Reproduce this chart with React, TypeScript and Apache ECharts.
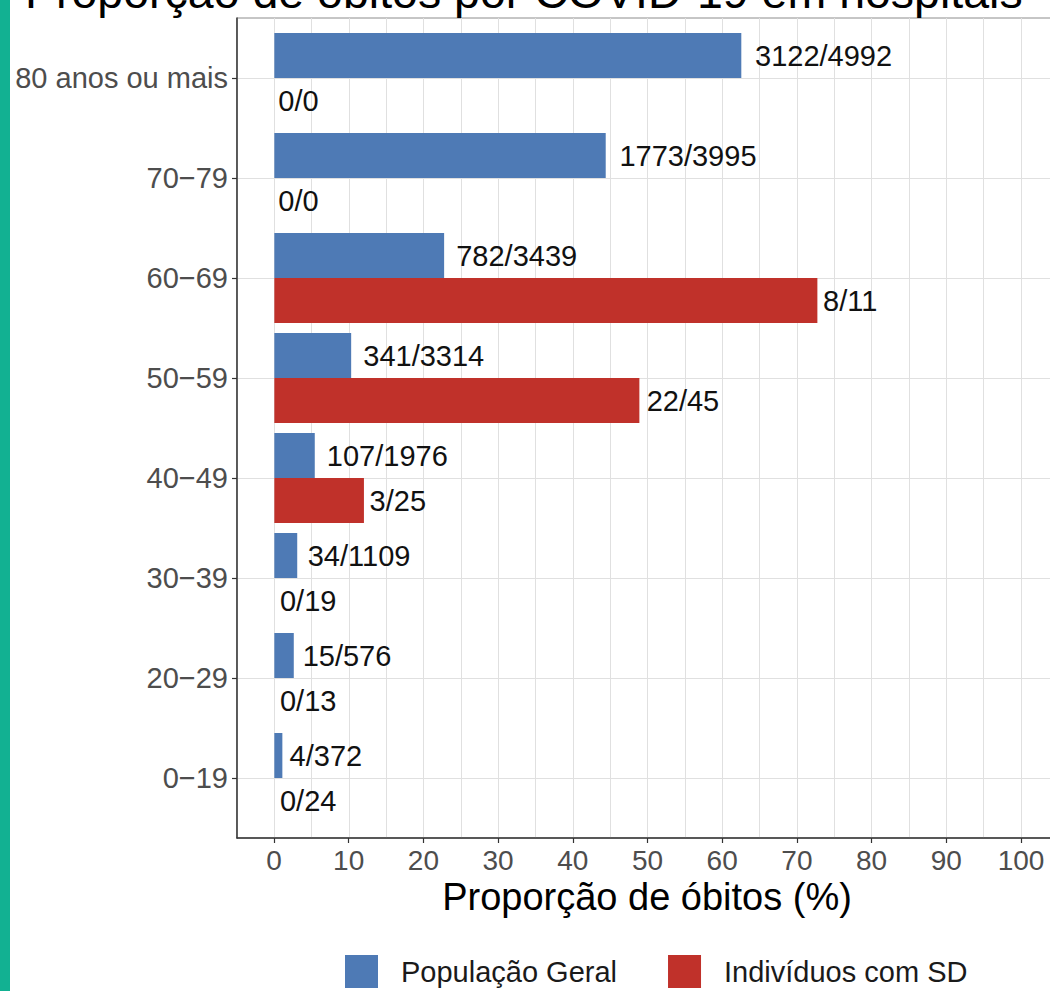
import React, { useEffect, useRef } from "react";
import * as echarts from "echarts";

const ageGroups = ["80 anos ou mais", "70−79", "60−69", "50−59", "40−49", "30−39", "20−29", "0−19"];
const geralDeaths = [3122, 1773, 782, 341, 107, 34, 15, 4];
const geralTotal = [4992, 3995, 3439, 3314, 1976, 1109, 576, 372];
const sdDeaths = [0, 0, 8, 22, 3, 0, 0, 0];
const sdTotal = [0, 0, 11, 45, 25, 19, 13, 24];
const seriesNames = ["População Geral", "Indivíduos com SD"];
const chartTitle = "Proporção de óbitos por COVID-19 em hospitais";
const xTitle = "Proporção de óbitos (%)";

const pct = (d: number[], t: number[]) => d.map((v, i) => (t[i] > 0 ? (100 * v) / t[i] : 0));

const FONT = "'Liberation Sans', Arial, sans-serif";
const BLUE = "#4e7ab5";
const RED = "#c0312a";
const LABEL_SIZE = 29;
const CHART_W = 1059;

// ggplot-like hjust = -0.1: gap equals 10% of the label's width
const labelGap = (s: string) => {
  let w = 0;
  for (const ch of s) w += ch === "/" ? 0.278 : 0.556;
  return Math.max(4, 0.1 * w * LABEL_SIZE);
};

const buildData = (d: number[], t: number[]) =>
  pct(d, t).map((v, i) => {
    const txt = `${d[i]}/${t[i]}`;
    return { value: v, label: { distance: labelGap(txt) } };
  });

export default function App() {
  const ref = useRef<HTMLDivElement>(null);
  useEffect(() => {
    if (!ref.current) return;
    const chart = echarts.init(ref.current, null, { renderer: "svg" });
    const gridTop = 18;
    const gridBottom = 991 - 838;
    const panelRight = CHART_W - 1058.35;
    const tickRight = CHART_W - 1021;
    const option: any = {
      animation: false,
      backgroundColor: "#ffffff",
      textStyle: { fontFamily: FONT },
      grid: [
        { left: 237, right: panelRight, top: 78, bottom: 991 - 778, containLabel: false },
        {
          left: 237, right: panelRight, top: gridTop, bottom: gridBottom, show: true,
          borderColor: "#8c8c8c", borderWidth: 1, backgroundColor: "transparent",
        },
        { left: 274, right: tickRight, top: gridTop, bottom: gridBottom },
      ],
      xAxis: [
        { gridIndex: 0, type: "value", min: -5, max: 105, show: false },
        {
          gridIndex: 1, type: "value", min: -5, max: 105, interval: 5,
          axisLine: { show: true, onZero: false, lineStyle: { color: "#333333", width: 1.5 } },
          axisTick: { show: false }, axisLabel: { show: false },
          splitLine: { show: true, lineStyle: { color: "#e0e0e0", width: 1 } },
        },
        {
          gridIndex: 2, type: "value", min: 0, max: 100, interval: 10,
          axisLine: { show: false, onZero: false },
          axisTick: { show: true, length: 5, lineStyle: { color: "#333333", width: 1.2 } },
          axisLabel: { show: true, color: "#4d4d4d", fontSize: 28, margin: 8, fontFamily: FONT },
          splitLine: { show: false },
        },
      ],
      yAxis: [
        {
          gridIndex: 0, type: "category", data: ageGroups, inverse: true, boundaryGap: false,
          axisLine: { show: false, onZero: false },
          axisTick: { show: true, length: 5, alignWithLabel: true, lineStyle: { color: "#333333", width: 1.2 } },
          axisLabel: { color: "#4d4d4d", fontSize: 29, margin: 9, fontFamily: FONT },
          splitLine: { show: true, lineStyle: { color: "#e0e0e0", width: 1 } },
        },
        {
          gridIndex: 1, type: "value", min: 0, max: 1,
          axisLine: { show: true, onZero: false, lineStyle: { color: "#333333", width: 1.5 } },
          axisTick: { show: false }, axisLabel: { show: false }, splitLine: { show: false },
        },
        { gridIndex: 2, type: "value", min: 0, max: 1, show: false },
      ],
      legend: {
        data: seriesNames,
        left: 340, top: 950, orient: "horizontal",
        itemWidth: 33, itemHeight: 33, itemGap: 51, icon: "rect",
        textStyle: { fontSize: 29, color: "#1a1a1a", fontFamily: FONT, padding: [0, 0, 0, 18] },
      },
      series: [
        {
          name: seriesNames[0], type: "bar", xAxisIndex: 0, yAxisIndex: 0,
          data: buildData(geralDeaths, geralTotal), barWidth: 45, barGap: "0%", clip: false,
          itemStyle: { color: BLUE },
          label: {
            show: true, position: "right", color: "#111111", fontSize: LABEL_SIZE, fontFamily: FONT,
            formatter: (p: any) => `${geralDeaths[p.dataIndex]}/${geralTotal[p.dataIndex]}`,
          },
        },
        {
          name: seriesNames[1], type: "bar", xAxisIndex: 0, yAxisIndex: 0,
          data: buildData(sdDeaths, sdTotal), barWidth: 45, barGap: "0%", clip: false,
          itemStyle: { color: RED },
          label: {
            show: true, position: "right", color: "#111111", fontSize: LABEL_SIZE, fontFamily: FONT,
            formatter: (p: any) => `${sdDeaths[p.dataIndex]}/${sdTotal[p.dataIndex]}`,
          },
        },
      ],
      graphic: [
        { type: "rect", left: 0, top: 0, shape: { x: 0, y: 0, width: 10, height: 991 }, style: { fill: "#12b192" }, z: 10 },
        {
          type: "text", x: 25, y: -8,
          style: { text: chartTitle, fontSize: 46.5, fill: "#000000", fontFamily: FONT, textAlign: "left", textVerticalAlign: "middle" },
        },
        {
          type: "text", x: 647, y: 897,
          style: { text: xTitle, fontSize: 38, fill: "#000000", fontFamily: FONT, textAlign: "center", textVerticalAlign: "middle" },
        },
      ],
    };
    chart.setOption(option);
    return () => chart.dispose();
  }, []);
  return (
    <div style={{ position: "absolute", left: 0, top: 0, width: 1050, height: 991, overflow: "hidden" }}>
      <div ref={ref} style={{ width: CHART_W, height: 991 }} />
    </div>
  );
}
